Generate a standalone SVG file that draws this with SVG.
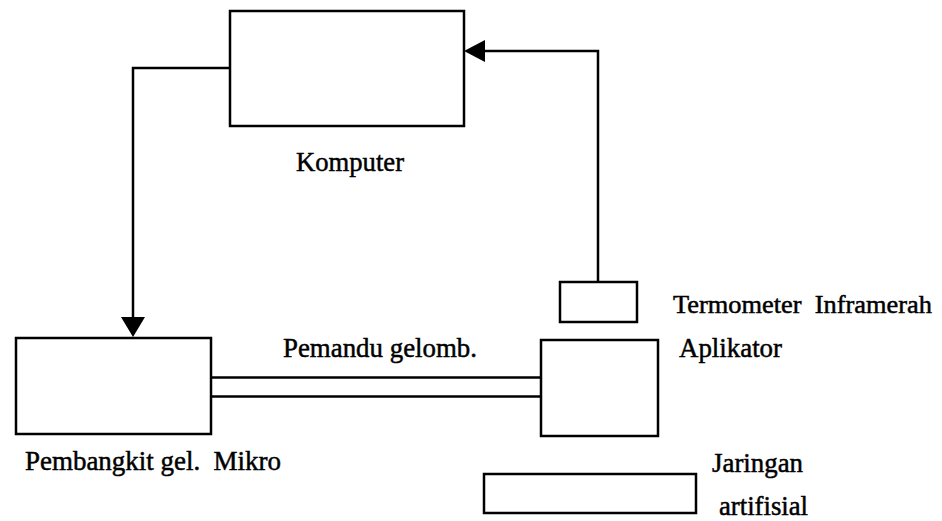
<svg xmlns="http://www.w3.org/2000/svg" width="942" height="521" viewBox="0 0 942 521">
<style>
.box{fill:none;stroke:#000;stroke-width:2.5}
.ln{fill:none;stroke:#000;stroke-width:2.5}
.t{font-family:"Liberation Serif","Times New Roman",serif;font-size:28px;fill:#000;stroke:#000;stroke-width:0.5}
.s{font-size:26px}
</style>
<rect width="942" height="521" fill="#fff"/>
<g id="komputer"><rect class="box" x="230" y="11" width="234" height="115"/><text class="t" x="296" y="171" textLength="108" lengthAdjust="spacingAndGlyphs">Komputer</text></g>
<g id="pembangkit"><rect class="box" x="16" y="338" width="195" height="96"/><text class="t" x="25" y="470" textLength="256" lengthAdjust="spacingAndGlyphs" xml:space="preserve">Pembangkit gel.  Mikro</text></g>
<g id="aplikator"><rect class="box" x="541" y="340" width="117" height="96"/><text class="t" x="679" y="357" textLength="103" lengthAdjust="spacingAndGlyphs">Aplikator</text></g>
<g id="termometer"><rect class="box" x="560" y="282" width="77" height="40"/><text class="t s" x="673" y="313" textLength="259" lengthAdjust="spacingAndGlyphs" xml:space="preserve">Termometer  Inframerah</text></g>
<g id="jaringan"><rect class="box" x="484" y="474" width="212" height="39"/><text class="t" x="712" y="472" textLength="91" lengthAdjust="spacingAndGlyphs">Jaringan</text><text class="t" x="719" y="515" textLength="89" lengthAdjust="spacingAndGlyphs">artifisial</text></g>
<g id="connectors">
<polyline class="ln" points="230,68 133,68 133,318"/>
<polygon points="121,317 145,317 133,337" fill="#000"/>
<polyline class="ln" points="598,282 598,51 484,51"/>
<polygon points="485,40 485,62 464,51" fill="#000"/>
<line class="ln" x1="211" y1="377.5" x2="541" y2="377.5"/>
<line class="ln" x1="211" y1="396.5" x2="541" y2="396.5"/>
<text class="t" x="283" y="357" textLength="194" lengthAdjust="spacingAndGlyphs">Pemandu gelomb.</text>
</g>
</svg>
